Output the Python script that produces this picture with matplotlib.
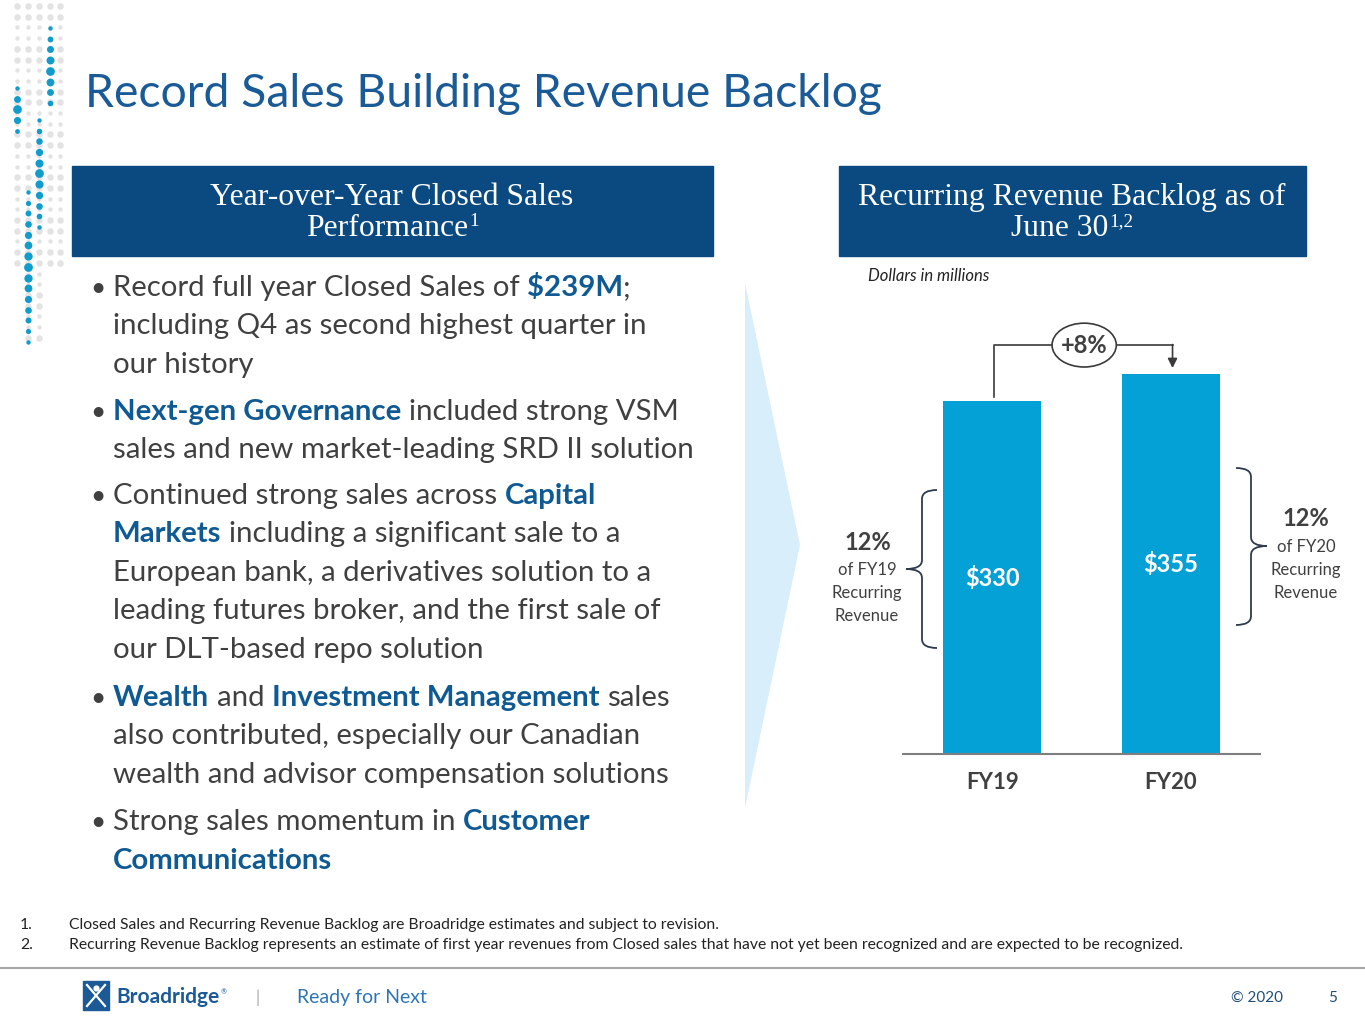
import matplotlib
matplotlib.use("Agg")
import matplotlib.pyplot as plt
from matplotlib.patches import Rectangle, Polygon, Ellipse, PathPatch
from matplotlib.path import Path
import numpy as np

# ---------------- data ----------------
categories = ["FY19", "FY20"]
backlog = [330, 355]
growth_label = "+8%"
share_labels = ["12%", "12%"]
title = "Record Sales Building Revenue Backlog"
left_header = ["Year-over-Year Closed Sales", "Performance"]
right_header = ["Recurring Revenue Backlog as of", "June 30"]
footnotes = [
    "Closed Sales and Recurring Revenue Backlog are Broadridge estimates and subject to revision.",
    "Recurring Revenue Backlog represents an estimate of first year revenues from Closed sales that have not yet been recognized and are expected to be recognized.",
]
bullets = [
    [[("Record full year Closed Sales of ", 0), ("$239M", 1), (";", 0)],
     [("including Q4 as second highest quarter in", 0)],
     [("our history", 0)]],
    [[("Next-gen Governance", 1), (" included strong VSM", 0)],
     [("sales and new market-leading SRD II solution", 0)]],
    [[("Continued strong sales across ", 0), ("Capital", 1)],
     [("Markets", 1), (" including a significant sale to a", 0)],
     [("European bank, a derivatives solution to a", 0)],
     [("leading futures broker, and the first sale of", 0)],
     [("our DLT-based repo solution", 0)]],
    [[("Wealth", 1), (" and ", 0), ("Investment Management", 1), (" sales", 0)],
     [("also contributed, especially our Canadian", 0)],
     [("wealth and advisor compensation solutions", 0)]],
    [[("Strong sales momentum in ", 0), ("Customer", 1)],
     [("Communications", 1)]],
]

# ---------------- style ----------------
W, H = 1365, 1024
NAVY = "#0B4A80"
TITLE_BLUE = "#1A5A96"
BOLD_BLUE = "#0F5A93"
GREY_TXT = "#404040"
BAR = "#04A1D7"
SANS = "Lato"

fig = plt.figure(figsize=(W / 100, H / 100), dpi=100)
fig.patch.set_facecolor("white")
bg = fig.add_axes([0, 0, 1, 1], zorder=0)
bg.set_xlim(0, W)
bg.set_ylim(H, 0)
bg.axis("off")
renderer = fig.canvas.get_renderer()


def twidth(s, **kw):
    t = bg.text(0, 0, s, **kw)
    w = t.get_window_extent(renderer=renderer).width
    t.remove()
    return w


def seg_width(s, **kw):
    core = s.strip()
    nsp = len(s) - len(s.lstrip()) + len(s) - len(s.rstrip())
    sp = twidth("a a", **kw) - twidth("aa", **kw)
    return (twidth(core, **kw) if core else 0) + nsp * sp


def fit_size(s, target, **kw):
    w = twidth(s, fontsize=20, **kw)
    return 20 * target / w


# ---------------- decorative dots ----------------
rng_cols = [17, 28, 39, 50, 60]
rows = np.arange(6, 345, 10.7)
for ci, cx in enumerate(rng_cols):
    for ry in rows:
        if ry < 270 or ci in (1, 2):
            bg.scatter(cx, ry, s=10 if (ry // 21) % 2 else 22, color="#E3E3E3", lw=0, zorder=1)
blue_runs = [(50, 28, 112), (17, 88, 132), (39, 120, 228), (28, 192, 342)]
for cx, y0, y1 in blue_runs:
    ys = np.arange(y0, y1, 10.7)
    mid = (y0 + y1) / 2
    for ry in ys:
        s = 40 - 30 * abs(ry - mid) / ((y1 - y0) / 2)
        bg.scatter(cx, ry, s=max(s, 8), color="#119CCC", lw=0, zorder=2)

# ---------------- title ----------------
ts = fit_size(title, 800, family=SANS)
bg.text(85, 107, title, fontsize=ts, family=SANS, color=TITLE_BLUE, va="baseline", ha="left")

# ---------------- header boxes ----------------
bg.add_patch(Rectangle((72, 166), 641, 90, color=NAVY, zorder=2))
bg.add_patch(Rectangle((839, 166), 467, 90, color=NAVY, zorder=2))
SERIF = "Liberation Serif"
hs = fit_size(left_header[0], 364, family=SERIF)
bg.text(392, 205, left_header[0], fontsize=hs, family=SERIF, color="white", ha="center", va="baseline", zorder=3)
w2 = twidth(left_header[1], fontsize=hs, family=SERIF)
ws = twidth("1", fontsize=hs * 0.6, family=SERIF)
x0 = 392 - (w2 + ws) / 2
bg.text(x0, 236, left_header[1], fontsize=hs, family=SERIF, color="white", ha="left", va="baseline", zorder=3)
bg.text(x0 + w2 + 1, 226, "1", fontsize=hs * 0.6, family=SERIF, color="white", ha="left", va="baseline", zorder=3)

bg.text(1072, 205, right_header[0], fontsize=hs, family=SERIF, color="white", ha="center", va="baseline", zorder=3)
w2 = twidth(right_header[1], fontsize=hs, family=SERIF)
ws = twidth("1,2", fontsize=hs * 0.6, family=SERIF)
x0 = 1072 - (w2 + ws) / 2
bg.text(x0, 236, right_header[1], fontsize=hs, family=SERIF, color="white", ha="left", va="baseline", zorder=3)
bg.text(x0 + w2 + 1, 226, "1,2", fontsize=hs * 0.6, family=SERIF, color="white", ha="left", va="baseline", zorder=3)

# ---------------- bullets ----------------
bsize = fit_size("Record full year Closed Sales of $239M;", 517, family=SANS)
baselines = [[296, 334, 373], [420, 458], [504, 542, 581, 619, 658], [706, 744, 783], [830, 869]]
for group, bys in zip(bullets, baselines):
    bg.text(90, bys[0], "\u2022", fontsize=bsize * 0.9, family=SANS, color=GREY_TXT, ha="left", va="baseline")
    for line, by in zip(group, bys):
        x = 113
        for txt, bold in line:
            kw = dict(fontsize=bsize, family=SANS, fontweight="bold" if bold else "normal")
            core = txt.strip()
            lead = len(txt) - len(txt.lstrip())
            sp = twidth("a a", **kw) - twidth("aa", **kw)
            bg.text(x + lead * sp, by, core, color=BOLD_BLUE if bold else GREY_TXT,
                    ha="left", va="baseline", **kw)
            x += seg_width(txt, **kw)

# ---------------- chevron ----------------
bg.add_patch(Polygon([(745, 283), (800, 545), (745, 808)], closed=True, color="#D8EEFB", lw=0, zorder=1))

# ---------------- chart ----------------
ax = fig.add_axes([903 / W, (H - 754) / H, 357 / W, 449 / H], zorder=2)
ax.patch.set_alpha(0)
xpos = np.arange(len(categories))
ax.bar(xpos, backlog, width=0.55, color=BAR, zorder=2)
ax.set_xlim(-0.5, 1.5)
ax.set_ylim(0, 420)
for s in ["top", "right", "left"]:
    ax.spines[s].set_visible(False)
ax.spines["bottom"].set_color("#7F7F7F")
ax.spines["bottom"].set_linewidth(1.5)
ax.set_yticks([])
ax.set_xticks(xpos)
ax.set_xticklabels(categories, fontsize=16, fontweight="bold", family=SANS, color=GREY_TXT)
ax.tick_params(axis="x", length=0, pad=13)
for xi, v in zip(xpos, backlog):
    ax.text(xi, v / 2, f"${v}", ha="center", va="center", color="white",
            fontsize=17, fontweight="bold", family=SANS, zorder=3)

# growth connector
yb = max(backlog) + 25
ax.plot([xpos[0] + 0.01, xpos[0] + 0.01, xpos[1] + 0.01], [backlog[0] + 4, yb + 2.5, yb + 2.5],
        color="#3A3A3A", lw=1.2, zorder=3, clip_on=False)
ax.annotate("", xy=(xpos[1] + 0.01, backlog[1] + 6), xytext=(xpos[1] + 0.01, yb + 3),
            arrowprops=dict(arrowstyle="-|>", color="#3A3A3A", lw=1.2, mutation_scale=14,
                            shrinkA=0, shrinkB=0), zorder=3)
ex = (xpos[0] + xpos[1]) / 2 + 0.015
ax.add_patch(Ellipse((ex, yb + 2.5), 0.36, 41, facecolor="white", edgecolor="#3A3A3A", lw=1.2,
                     zorder=4, clip_on=False))
ax.text(ex, yb + 2.5, growth_label, ha="center", va="center", fontsize=17, fontweight="bold",
        family=SANS, color=GREY_TXT, zorder=5)

# braces (pixel coordinates)
def brace(x_end, x_line, x_tip, y_top, y_bot, y_mid, r=9):
    verts = [(x_end, y_top), (x_line, y_top), (x_line, y_top + r),
             (x_line, y_mid - r), (x_line, y_mid), (x_tip, y_mid),
             (x_line, y_mid), (x_line, y_mid + r),
             (x_line, y_bot - r), (x_line, y_bot), (x_end, y_bot)]
    codes = [Path.MOVETO, Path.CURVE3, Path.CURVE3, Path.LINETO, Path.CURVE3, Path.CURVE3,
             Path.CURVE3, Path.CURVE3, Path.LINETO, Path.CURVE3, Path.CURVE3]
    bg.add_patch(PathPatch(Path(verts, codes), facecolor="none", edgecolor="#2F3B4C", lw=1.3, zorder=3))

brace(937, 922, 906, 490, 648, 569)
brace(1236, 1251, 1267, 468, 625, 546)

bg.text(868, 543, share_labels[0], ha="center", va="center", fontsize=17, fontweight="bold", family=SANS, color=GREY_TXT)
bg.text(867, 570, "of FY19", ha="center", va="center", fontsize=12, family=SANS, color=GREY_TXT)
bg.text(867, 593, "Recurring", ha="center", va="center", fontsize=12, family=SANS, color=GREY_TXT)
bg.text(867, 616, "Revenue", ha="center", va="center", fontsize=12, family=SANS, color=GREY_TXT)
bg.text(1306, 519, share_labels[1], ha="center", va="center", fontsize=17, fontweight="bold", family=SANS, color=GREY_TXT)
bg.text(1306, 547, "of FY20", ha="center", va="center", fontsize=12, family=SANS, color=GREY_TXT)
bg.text(1306, 570, "Recurring", ha="center", va="center", fontsize=12, family=SANS, color=GREY_TXT)
bg.text(1306, 593, "Revenue", ha="center", va="center", fontsize=12, family=SANS, color=GREY_TXT)

bg.text(868, 276, "Dollars in millions", ha="left", va="center", fontsize=12, style="italic",
        family=SANS, color="#222222")

# ---------------- footnotes ----------------
fs = fit_size(footnotes[1], 1120, family=SANS)
for i, (fn, y) in enumerate(zip(footnotes, [925, 945])):
    bg.text(20, y, f"{i + 1}.", ha="left", va="center", fontsize=fs, family=SANS, color="#222222")
    bg.text(69, y, fn, ha="left", va="center", fontsize=fs, family=SANS, color="#222222")

# ---------------- footer ----------------
bg.plot([0, W], [968, 968], color="#A6A6A6", lw=1.5)
bg.add_patch(Rectangle((83, 981), 26, 29, color="#1B5A96", zorder=2))
bg.plot([87, 105], [985, 1006], color="white", lw=1.6, zorder=3)
bg.plot([105, 87], [985, 1006], color="white", lw=1.6, zorder=3)
bg.scatter([96], [988], s=12, color="white", zorder=3)
bg.text(116, 997, "Broadridge", ha="left", va="center", fontsize=15, fontweight="bold", family=SANS, color="#1B5A96")
bg.text(221, 992, "\u00ae", ha="left", va="center", fontsize=5, family=SANS, color="#1B5A96")
bg.text(258, 998, "|", ha="center", va="center", fontsize=12, family=SANS, color="#A6A6A6")
bg.text(297, 997, "Ready for Next", ha="left", va="center", fontsize=14, family=SANS, color="#2E75B6")
bg.text(1283, 998, "\u00a9 2020", ha="right", va="center", fontsize=11, family=SANS, color="#1F4E79")
bg.text(1333, 998, "5", ha="center", va="center", fontsize=11, family=SANS, color="#1F4E79")

fig.savefig("out.png", dpi=100)
